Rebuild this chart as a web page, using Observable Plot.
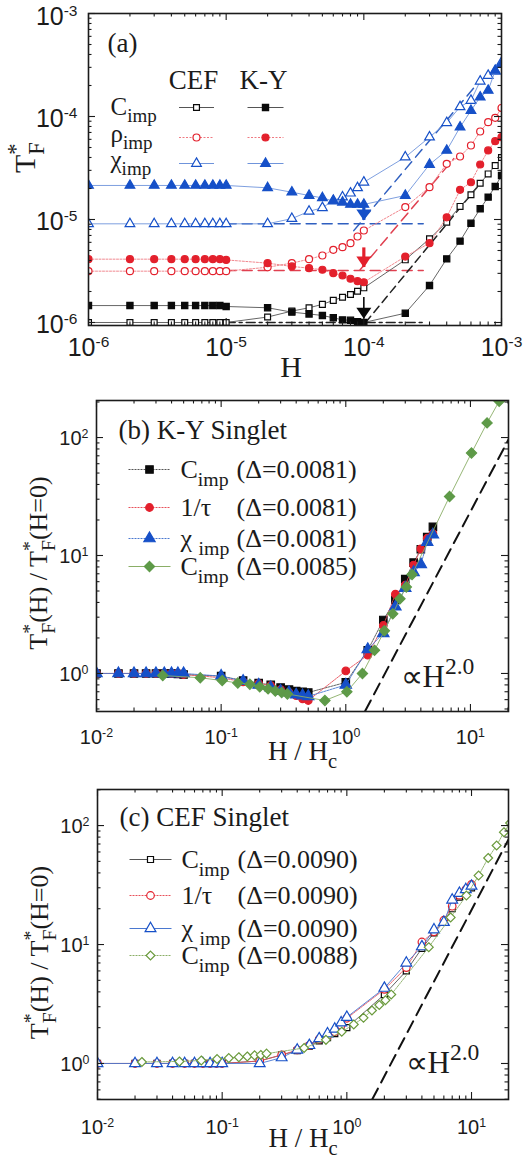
<!DOCTYPE html>
<html><head><meta charset="utf-8">
<script src="https://cdn.jsdelivr.net/npm/d3@7"></script>
<script src="https://cdn.jsdelivr.net/npm/@observablehq/plot@0.6"></script>
<style>
body{margin:0;background:#fff;}
#chart{width:530px;}
#chart svg{display:block;}
</style></head><body><div id="chart"></div>
<script>
// ---------------- DATA: panel (a) ----------------
const H = [1e-6,2e-6,3e-6,4e-6,5e-6,6e-6,7e-6,8e-6,9e-6,1e-5,2e-5,3e-5,4e-5,5e-5,6e-5,7e-5,8e-5,9e-5,1e-4,2e-4,3e-4,4e-4,5e-4,6e-4,7e-4,8e-4,9e-4,1e-3];
const cefC   = [1.0e-6,1.0e-6,1.0e-6,1.0e-6,1.0e-6,1.0e-6,1.0e-6,1.0e-6,1.0e-6,1.0e-6,1.13e-6,1.29e-6,1.39e-6,1.5e-6,1.64e-6,1.76e-6,1.87e-6,2.01e-6,2.17e-6,4.06e-6,6.5e-6,9.4e-6,1.34e-5,1.74e-5,2.25e-5,2.77e-5,3.34e-5,4.0e-5];
const kyC    = [1.46e-6,1.46e-6,1.46e-6,1.46e-6,1.46e-6,1.46e-6,1.46e-6,1.46e-6,1.46e-6,1.43e-6,1.39e-6,1.26e-6,1.21e-6,1.17e-6,1.11e-6,1.06e-6,1.05e-6,1.02e-6,1.0e-6,1.23e-6,2.29e-6,4.15e-6,6.16e-6,9.2e-6,1.27e-5,1.65e-5,2.09e-5,2.67e-5];
const cefRho = [3.15e-6,3.15e-6,3.15e-6,3.15e-6,3.15e-6,3.15e-6,3.15e-6,3.15e-6,3.15e-6,3.15e-6,3.44e-6,3.77e-6,4.12e-6,4.47e-6,5.08e-6,5.38e-6,5.89e-6,6.84e-6,7.82e-6,1.32e-5,2.06e-5,3.47e-5,4.09e-5,5.23e-5,7.15e-5,8.8e-5,9.7e-5,1.21e-4];
const kyRho  = [4.12e-6,4.12e-6,4.12e-6,4.12e-6,4.12e-6,4.12e-6,4.12e-6,4.12e-6,4.12e-6,4.05e-6,3.77e-6,3.5e-6,3.37e-6,3.25e-6,3.01e-6,2.86e-6,2.66e-6,2.52e-6,2.46e-6,4.37e-6,5.89e-6,1.05e-5,1.94e-5,2.3e-5,3.42e-5,4.68e-5,5.76e-5,6.3e-5];
const cefChi = [9.08e-6,9.08e-6,9.08e-6,9.08e-6,9.08e-6,9.08e-6,9.08e-6,9.08e-6,9.08e-6,9.08e-6,9.08e-6,1.02e-5,1.2e-5,1.3e-5,1.53e-5,1.65e-5,1.8e-5,2.03e-5,2.3e-5,4.03e-5,6.3e-5,8.7e-5,1.24e-4,1.43e-4,2.2e-4,2.5e-4,2.75e-4,3.35e-4];
const kyChi  = [2.14e-5,2.14e-5,2.14e-5,2.14e-5,2.14e-5,2.14e-5,2.14e-5,2.14e-5,2.14e-5,2.14e-5,2.03e-5,1.84e-5,1.71e-5,1.62e-5,1.51e-5,1.47e-5,1.4e-5,1.4e-5,1.4e-5,1.71e-5,3.42e-5,4.68e-5,7.87e-5,1.14e-4,1.54e-4,1.79e-4,2.8e-4,3.2e-4];
// guide (dashed) lines of panel (a): [H start, H end], [T start, T end]
const guideBlueFlatH = [1e-5, 2.7e-4], guideBlueFlatT = [9.1e-6, 9.1e-6];
const guideRedFlatH  = [1e-5, 2.7e-4], guideRedFlatT  = [3.2e-6, 3.2e-6];
const guideBlkFlatH  = [1e-5, 2.7e-4], guideBlkFlatT  = [1.0e-6, 1.0e-6];
const guideBlueRiseH = [8.45e-5, 6.65e-4], guideBlueRiseT = [7.8e-6, 2.07e-4];
const guideRedRiseH  = [9.4e-5, 4.5e-4],  guideRedRiseT  = [3.25e-6, 3.9e-5];
const guideBlkRiseH  = [1.03e-4, 6.65e-4], guideBlkRiseT = [1.0e-6, 2.06e-5];
// arrows at H = 1e-4
const arrowH    = [1e-4, 1e-4, 1e-4];
const arrowFrom = [1.5e-5, 5.3e-6, 1.75e-6];
const arrowTo   = [9.8e-6, 3.42e-6, 1.09e-6];
const aXTicks = [1e-6, 1e-5, 1e-4, 1e-3];
const aYTicks = [1e-6, 1e-5, 1e-4, 1e-3];

// ---------------- DATA: panel (b) K-Y singlet ----------------
const xB = [0.01,0.015,0.02,0.025,0.03,0.035,0.04,0.045,0.05,0.1,0.15,0.2,0.25,0.3,0.35,0.4,0.45,0.5,1,1.5,2,2.5,3,3.5,4,4.5,5];
const bC   = [1,1,1,1,1,1,1,0.99,0.98,0.95,0.87,0.83,0.8,0.76,0.73,0.71,0.70,0.69,0.84,1.57,2.84,4.2,6.3,8.7,11.3,14.3,17.5];
const bTau = [1,1,1,1,1,1,1,1,0.98,0.92,0.85,0.82,0.79,0.73,0.69,0.65,0.61,0.59,1.05,1.43,2.55,4.7,5.6,8.3,11.4,14,15.3];
const bChi = [1,1,1,1,1,1,1,1,1,0.95,0.86,0.8,0.76,0.71,0.69,0.66,0.65,0.64,0.8,1.6,2.19,3.68,5.3,7.2,8.4,13,15];
const xBD = [0.034,0.068,0.102,0.136,0.17,0.204,0.238,0.272,0.306,0.34,0.68,1.02,1.36,1.7,2.04,2.38,2.72,3.06,3.4,6.8,10.2,13.6,17.0];
const bD  = [0.96,0.92,0.87,0.83,0.81,0.77,0.74,0.71,0.69,0.67,0.59,0.70,1.0,1.57,2.3,3.2,4.3,5.4,6.9,31.6,74,133,203];
const powBx = [1.43, 20.5], powBy = [0.48, 99];
const bXTicks = [0.01, 0.1, 1, 10];
const bYTicks = [1, 10, 100];

// ---------------- DATA: panel (c) CEF singlet ----------------
const xC = [0.01,0.02,0.03,0.04,0.05,0.06,0.07,0.08,0.09,0.1,0.2,0.3,0.4,0.5,0.6,0.7,0.8,0.9,1,2,3,4,5,6,7,8,9,10];
const cC   = [1,1,1,1,1,1,1,1,1,1,1.05,1.18,1.28,1.4,1.55,1.65,1.78,1.9,2.0,3.8,6.0,9.3,12.5,15.5,20,25,28,30];
const cTau = [1,1,1,1,1,1,1,1,1,1,1.05,1.18,1.3,1.42,1.6,1.7,1.85,2.1,2.4,4.2,6.4,10.5,12.8,16,21,26,29,32];
const cChi = [1,1,1,1,1,1,1,1,1,1,1,1.12,1.3,1.42,1.62,1.78,1.95,2.2,2.45,4.3,7.0,9.6,13.3,15.4,23.7,27,29,31];
const xCD = [0.0227,0.0454,0.068,0.091,0.113,0.136,0.159,0.182,0.204,0.227,0.454,0.68,0.91,1.136,1.36,1.59,1.82,2.04,2.27,4.54,6.8,9.1,11.4,13.6,15.9,18.2,20.4];
const cD  = [1.03,1.04,1.06,1.09,1.11,1.13,1.145,1.17,1.18,1.21,1.35,1.58,1.85,2.13,2.42,2.79,3.1,3.4,3.8,9.5,16.9,25.8,38,53.4,68,88,105];
const powCx = [1.6, 20.5], powCy = [0.5, 82];
const cXTicks = [0.01, 0.1, 1, 10];
const cYTicks = [1, 10, 100];

// ---------------- styling ----------------
const SANS = "Liberation Sans, Arial, sans-serif";
const SERIF = "Liberation Serif, Times New Roman, serif";
const INK = "#1b1b1b";
const BLK = "#0a0a0a", RED = "#e3202c", BLUE = "#1650c8", GREEN = "#5e9a48", GREEN2 = "#6a9a3c";

const hLine = r => ({draw(c){ c.moveTo(-r,0); c.lineTo(r,0); }});
const downHead = (w,h) => ({draw(c){ c.moveTo(-w,-h); c.lineTo(w,-h); c.lineTo(0,0); c.closePath(); }});
const recs = (xs, ys) => xs.map((x,i) => ({x, y: ys[i]}));

function logMinor(lo, hi) {
  const out = [];
  for (let e = Math.floor(Math.log10(lo)); e <= Math.ceil(Math.log10(hi)); e++)
    for (let k = 2; k < 10; k++) { const v = k * Math.pow(10, e); if (v >= lo && v <= hi) out.push(v); }
  return out;
}
const expLabel = d => `10^{${Math.round(Math.log10(d))}}`;

function axisMarks(o) {
  const xMin = logMinor(...o.xd), yMin = logMinor(...o.yd);
  const T = 7, t = 3.5;
  const s = {stroke: INK, strokeWidth: 1.1};
  return [
    Plot.tickX(o.xMaj, {x: d=>d, insetTop: o.ph - T, ...s}),
    Plot.tickX(o.xMaj, {x: d=>d, insetBottom: o.ph - T, ...s}),
    Plot.tickX(xMin, {x: d=>d, insetTop: o.ph - t, ...s}),
    Plot.tickX(xMin, {x: d=>d, insetBottom: o.ph - t, ...s}),
    Plot.tickY(o.yMaj, {y: d=>d, insetRight: o.pw - T, ...s}),
    Plot.tickY(o.yMaj, {y: d=>d, insetLeft: o.pw - T, ...s}),
    Plot.tickY(yMin, {y: d=>d, insetRight: o.pw - t, ...s}),
    Plot.tickY(yMin, {y: d=>d, insetLeft: o.pw - t, ...s}),
    Plot.frame({stroke: INK, strokeWidth: 1.6}),
    Plot.text(o.xMaj, {x: d=>d, y: null, frameAnchor: "bottom", dy: o.xdy, text: expLabel,
      lineAnchor: "middle", textAnchor: "middle", fontSize: o.fs, fontFamily: SANS, fill: INK}),
    Plot.text(o.yMaj, {y: d=>d, x: null, frameAnchor: "left", dx: o.ydx, dy: o.ydy, textAnchor: "end",
      lineAnchor: "middle", text: expLabel, fontSize: o.fs, fontFamily: SANS, fill: INK})
  ];
}

function series(xs, ys, {symbol, color, fill, r, line, dash, lw = 0.9, sw = 1.2}) {
  const data = recs(xs, ys);
  return [
    Plot.line(data, {x: "x", y: "y", stroke: line, strokeWidth: lw, strokeDasharray: dash, clip: true}),
    Plot.dot(data, {x: "x", y: "y", symbol, r, stroke: color, fill, strokeWidth: sw, clip: true})
  ];
}

function txt(str, o) {
  return Plot.text([str], {x: null, y: null, text: d => d, frameAnchor: "top-left",
    textAnchor: "start", lineAnchor: "middle", fontFamily: SERIF, fill: INK, ...o});
}
function legendSample(dx, dy, half, line, dash, symbol, color, fill, r) {
  return [
    Plot.dot([0], {x: null, y: null, frameAnchor: "top-left", dx, dy, symbol: hLine(half),
      fill: "none", stroke: line, strokeWidth: 1, strokeDasharray: dash}),
    Plot.dot([0], {x: null, y: null, frameAnchor: "top-left", dx, dy, symbol, r,
      stroke: color, fill, strokeWidth: 1.2})
  ];
}

// ---------------- panel (a) ----------------
function panelA() {
  const W = 530, Ht = 390, ml = 88, mr = 29, mt = 13, mb = 65;
  const pw = W - ml - mr, ph = Ht - mt - mb;
  const xd = [1e-6, 1e-3], yd = [0.935e-6, 1e-3];
  const dashed = (hs, ts, stroke, arr) => Plot.line(recs(hs, ts), {x: "x", y: "y", stroke, strokeWidth: 1.5, strokeDasharray: arr});
  const idx = [0, 1, 2];
  const aCol = [BLUE, RED, BLK];
  const rowsY = [94, 124, 150];
  return Plot.plot({
    width: W, height: Ht, marginLeft: ml, marginRight: mr, marginTop: mt, marginBottom: mb,
    x: {type: "log", domain: xd, axis: null},
    y: {type: "log", domain: yd, axis: null},
    style: {fontFamily: SERIF, background: "white", color: INK},
    marks: [
      dashed(guideBlueFlatH, guideBlueFlatT, "#2f5fc0", "10,6"),
      dashed(guideRedFlatH, guideRedFlatT, "#e04050", "10,6"),
      dashed(guideBlkFlatH, guideBlkFlatT, "#222", "9,4,3,4"),
      dashed(guideBlueRiseH, guideBlueRiseT, "#2f5fc0", "10,6"),
      dashed(guideRedRiseH, guideRedRiseT, "#e04050", "10,6"),
      dashed(guideBlkRiseH, guideBlkRiseT, "#222", "8,5"),
      ...series(H, cefC,   {symbol: "square",   color: BLK,  fill: "white", r: 3.3, line: "#555"}),
      ...series(H, kyC,    {symbol: "square",   color: BLK,  fill: BLK,     r: 3.5, line: "#555"}),
      ...series(H, cefRho, {symbol: "circle",   color: RED,  fill: "white", r: 3.5, line: "#ef7a82", dash: "2,1.5"}),
      ...series(H, kyRho,  {symbol: "circle",   color: RED,  fill: RED,     r: 3.5, line: "#ef7a82", dash: "2,1.5"}),
      ...series(H, cefChi, {symbol: "triangle", color: BLUE, fill: "white", r: 3.6, line: "#6f94db"}),
      ...series(H, kyChi,  {symbol: "triangle", color: BLUE, fill: BLUE,    r: 3.6, line: "#6f94db"}),
      Plot.ruleX(idx, {x: i => arrowH[i], y1: i => arrowFrom[i], y2: i => arrowTo[i],
        stroke: i => aCol[i], strokeWidth: i => i === 2 ? 1.6 : 3.2}),
      Plot.dot(idx, {x: i => arrowH[i], y: i => arrowTo[i], symbol: downHead(7.5, 11),
        fill: i => aCol[i], stroke: "none"}),
      ...axisMarks({xd, yd, xMaj: aXTicks, yMaj: aYTicks, pw, ph, fs: 25, xdy: 22, ydx: -11, ydy: 3}),
      txt("(a)", {dx: 19, dy: 30, fontSize: 27}),
      txt("CEF", {dx: 105, dy: 67, fontSize: 27, textAnchor: "middle"}),
      txt("K-Y", {dx: 175, dy: 67, fontSize: 27, textAnchor: "middle"}),
      txt("C_{imp}", {dx: 22, dy: rowsY[0] - 1, fontSize: 25}),
      txt("ρ_{imp}", {dx: 22, dy: rowsY[1] - 4, fontSize: 25}),
      txt("χ_{imp}", {dx: 22, dy: rowsY[2] - 4, fontSize: 25}),
      ...legendSample(108, rowsY[0], 17.5, "#555", null, "square", BLK, "white", 3.3),
      ...legendSample(108, rowsY[1], 17.5, "#ef7a82", "2,1.5", "circle", RED, "white", 3.5),
      ...legendSample(108, rowsY[2], 17.5, "#6f94db", null, "triangle", BLUE, "white", 3.6),
      ...legendSample(177, rowsY[0], 18, "#555", null, "square", BLK, BLK, 3.5),
      ...legendSample(177, rowsY[1], 18, "#ef7a82", "2,1.5", "circle", RED, RED, 3.5),
      ...legendSample(177, rowsY[2], 18, "#6f94db", null, "triangle", BLUE, BLUE, 3.6),
      Plot.text(["H"], {x: null, y: null, text: d => d, frameAnchor: "bottom", dx: -4, dy: 42,
        lineAnchor: "middle", textAnchor: "middle", fontSize: 30, fontFamily: SERIF, fill: INK}),
      Plot.text(["T_{F}^{*}"], {x: null, y: null, text: d => d, frameAnchor: "left", dx: -63, dy: -12, rotate: -90,
        lineAnchor: "middle", textAnchor: "middle", fontSize: 30, fontFamily: SERIF, fill: INK})
    ]
  });
}

// ---------------- panels (b) and (c) ----------------
function panelBC(cfg) {
  const W = 530, Ht = cfg.height, ml = cfg.ml, mr = 22, mt = cfg.mt, mb = cfg.mb;
  const pw = W - ml - mr, ph = Ht - mt - mb;
  const rows = cfg.rows;
  const marks = [
    Plot.line(recs(cfg.powX, cfg.powY), {x: "x", y: "y", stroke: "#111", strokeWidth: 2, strokeDasharray: "12,7", clip: true}),
    ...cfg.series.flatMap(s => series(s.x, s.y, s)),
    ...axisMarks({xd: cfg.xd, yd: cfg.yd, xMaj: cfg.xMaj, yMaj: cfg.yMaj, pw, ph, fs: 20, xdy: cfg.xdy, ydx: -8, ydy: 1}),
    txt(cfg.title, {dx: 22, dy: cfg.titleDy, fontSize: 27}),
    ...cfg.series.flatMap((s, i) => legendSample(53, rows[i], 21, s.line, s.dash, s.symbol, s.color, s.fill, s.r)),
    ...cfg.series.flatMap((s, i) => [
      txt(s.label, {dx: 84, dy: rows[i], fontSize: 26}),
      txt(s.delta, {dx: 140, dy: rows[i], fontSize: 26})
    ]),
    txt("∝H^{2.0}", {dx: cfg.powDx, dy: cfg.powDy, fontSize: 31}),
    Plot.text(["H / H_{c}"], {x: null, y: null, text: d => d, frameAnchor: "bottom", dy: cfg.xtDy,
      lineAnchor: "middle", textAnchor: "middle", fontSize: 27, fontFamily: SERIF, fill: INK}),
    Plot.text(["T_{F}^{*}(H) / T_{F}^{*}(H=0)"], {x: null, y: null, text: d => d, frameAnchor: "left", dx: -58, dy: cfg.ytDy, rotate: -90,
      lineAnchor: "middle", textAnchor: "middle", fontSize: 26, fontFamily: SERIF, fill: INK})
  ];
  return Plot.plot({
    width: W, height: Ht, marginLeft: ml, marginRight: mr, marginTop: mt, marginBottom: mb,
    x: {type: "log", domain: cfg.xd, axis: null},
    y: {type: "log", domain: cfg.yd, axis: null},
    style: {fontFamily: SERIF, background: "white", color: INK},
    marks
  });
}

const svgA = panelA();
const svgB = panelBC({
  height: 390, ml: 96, mt: 10, mb: 69, xd: [0.01, 20.2], yd: [0.476, 206],
  xMaj: bXTicks, yMaj: bYTicks, xdy: 26, title: "(b) K-Y Singlet", titleDy: 30,
  rows: [69, 107, 138, 166], powX: powBx, powY: powBy, powDx: 304, powDy: 277, xtDy: 40, ytDy: 7,
  series: [
    {x: xB, y: bC,   symbol: "square",   color: BLK,   fill: BLK,   r: 4.2, line: "#555",    dash: "2,1", label: "C_{imp}", delta: "(Δ=0.0081)"},
    {x: xB, y: bTau, symbol: "circle",   color: RED,   fill: RED,   r: 3.8, line: "#e8505a", dash: "2,1", label: "1/τ", delta: "(Δ=0.0081)"},
    {x: xB, y: bChi, symbol: "triangle", color: BLUE,  fill: BLUE,  r: 4.2, line: "#4a78d0", dash: "2,1", label: "χ _{imp}", delta: "(Δ=0.0081)"},
    {x: xBD, y: bD,  symbol: "diamond2", color: GREEN, fill: GREEN, r: 4.6, line: "#8aae66", dash: null, label: "C_{imp}", delta: "(Δ=0.0085)"}
  ]
});
const svgC = panelBC({
  height: 387, ml: 97, mt: 9, mb: 68, xd: [0.01, 19.8], yd: [0.498, 201],
  xMaj: cXTicks, yMaj: cYTicks, xdy: 28, title: "(c) CEF Singlet", titleDy: 28,
  rows: [70, 106, 139, 166], powX: powCx, powY: powCy, powDx: 308, powDy: 274, xtDy: 39, ytDy: 8,
  series: [
    {x: xC, y: cC,   symbol: "square",   color: BLK,    fill: "white", r: 3.4, line: "#555",    dash: null,  label: "C_{imp}", delta: "(Δ=0.0090)"},
    {x: xC, y: cTau, symbol: "circle",   color: RED,    fill: "white", r: 3.8, line: "#e8505a", dash: "2,1", label: "1/τ", delta: "(Δ=0.0090)"},
    {x: xC, y: cChi, symbol: "triangle", color: BLUE,   fill: "white", r: 4.0, line: "#4a78d0", dash: null,  label: "χ _{imp}", delta: "(Δ=0.0090)"},
    {x: xCD, y: cD,  symbol: "diamond2", color: GREEN2, fill: "white", r: 4.0, line: "#8aae66", dash: "2,1", label: "C_{imp}", delta: "(Δ=0.0088)"}
  ]
});

const chart = document.getElementById("chart");
[svgA, svgB, svgC].forEach(s => chart.appendChild(s));

// ---------- rich text: turn ^{..} and _{..} into real tspans ----------
const NS = "http://www.w3.org/2000/svg";
function richify(root) {
  root.querySelectorAll("text").forEach(t => {
    const s = t.textContent;
    if (!/[_^]\{/.test(s)) return;
    let fs = 16, el = t, fam = "";
    while (el && el.getAttribute) {
      if (!fam && el.getAttribute("font-family")) fam = el.getAttribute("font-family");
      const f = el.getAttribute("font-size");
      if (f) { fs = parseFloat(f); break; }
      el = el.parentNode;
    }
    if (!fam) { let e2 = t; while (e2 && e2.getAttribute) { if (e2.getAttribute("font-family")) { fam = e2.getAttribute("font-family"); break; } e2 = e2.parentNode; } }
    const sans = /Sans/.test(fam);
    const ratio = sans ? 0.62 : 0.76;
    const parts = [];
    const re = /([_^])\{([^}]*)\}|([^_^]+|[_^])/g;
    let m;
    while ((m = re.exec(s))) parts.push(m[1] ? {t: m[1], s: m[2]} : {t: "n", s: m[3]});
    t.textContent = "";
    let cur = 0, prev = null, prevEl = null, pending = 0;
    for (const p of parts) {
      const ts = document.createElementNS(NS, "tspan");
      const off = p.t === "^" ? (sans ? -0.36 : -0.42) * fs : p.t === "_" ? 0.30 * fs : 0;
      ts.setAttribute("dy", (off - cur).toFixed(2)); cur = off;
      if (p.t !== "n") ts.setAttribute("font-size", (ratio * fs).toFixed(1));
      ts.textContent = p.s;
      t.appendChild(ts);
      if (p.t === "^" && prev && prev.t === "_") {
        const w = prevEl.getComputedTextLength();
        ts.setAttribute("dx", (-w).toFixed(2));
        const w2 = ts.getComputedTextLength();
        pending = Math.max(0, w - w2);
      } else if (pending) { ts.setAttribute("dx", pending.toFixed(2)); pending = 0; }
      prev = p; prevEl = ts;
    }
  });
}
richify(chart);
</script></body></html>
